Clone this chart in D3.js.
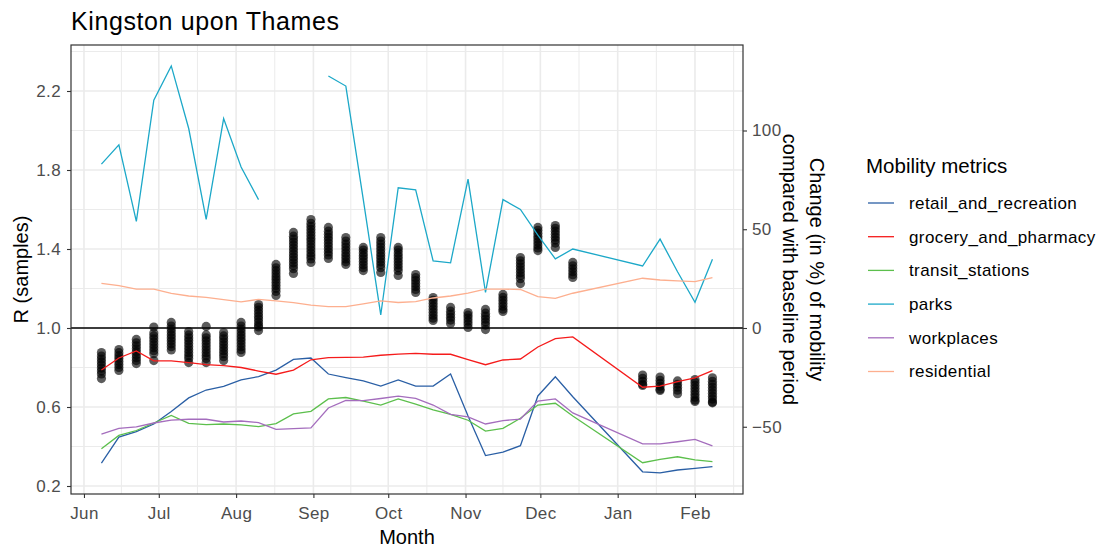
<!DOCTYPE html>
<html>
<head>
<meta charset="utf-8">
<script src="https://cdn.jsdelivr.net/npm/d3@7"></script>
<style>
  html, body { margin: 0; padding: 0; background: #ffffff; }
  svg { display: block; font-family: "Liberation Sans", Arial, sans-serif; }
</style>
</head>
<body>
<svg id="chart" width="1103" height="551"></svg>
<script>
// Weekly reporting dates (R samples and mobility averages share them)
const weeks = [
  "2020-06-08","2020-06-15","2020-06-22","2020-06-29","2020-07-06","2020-07-13","2020-07-20","2020-07-27",
  "2020-08-03","2020-08-10","2020-08-17","2020-08-24","2020-08-31","2020-09-07","2020-09-14","2020-09-21",
  "2020-09-28","2020-10-05","2020-10-12","2020-10-19","2020-10-26","2020-11-02","2020-11-09","2020-11-16",
  "2020-11-23","2020-11-30","2020-12-07","2020-12-14","2021-01-11","2021-01-18","2021-01-25","2021-02-01",
  "2021-02-08"
];

// Posterior samples of R for each week
const rSamples = [
  [0.876,0.858,0.843,0.828,0.813,0.797,0.782,0.767,0.744],
  [0.891,0.875,0.86,0.845,0.83,0.815,0.80,0.785],
  [0.942,0.925,0.91,0.895,0.88,0.865,0.85,0.835,0.82],
  [1.005,0.975,0.96,0.945,0.93,0.915,0.90,0.885,0.87,0.835],
  [1.028,1.01,0.995,0.98,0.965,0.95,0.935,0.92,0.905,0.889],
  [0.982,0.965,0.95,0.935,0.92,0.905,0.89,0.875,0.86,0.845,0.825],
  [1.008,0.965,0.95,0.935,0.92,0.905,0.89,0.875,0.86,0.845,0.825],
  [0.977,0.96,0.945,0.93,0.915,0.90,0.885,0.87,0.855,0.835],
  [1.028,1.01,0.995,0.98,0.965,0.95,0.935,0.92,0.905,0.89,0.876],
  [1.119,1.105,1.09,1.075,1.06,1.045,1.03,1.015,1.005,0.987],
  [1.322,1.305,1.29,1.275,1.26,1.245,1.23,1.215,1.20,1.185,1.165],
  [1.484,1.465,1.45,1.435,1.42,1.405,1.39,1.375,1.36,1.345,1.33,1.315,1.30,1.276],
  [1.549,1.53,1.515,1.50,1.485,1.47,1.455,1.44,1.425,1.41,1.395,1.38,1.365,1.35,1.332],
  [1.509,1.49,1.475,1.46,1.445,1.43,1.415,1.40,1.385,1.37,1.352],
  [1.458,1.44,1.425,1.41,1.395,1.38,1.365,1.35,1.335,1.322],
  [1.408,1.395,1.38,1.365,1.35,1.335,1.32,1.305,1.291],
  [1.458,1.44,1.425,1.41,1.395,1.38,1.365,1.35,1.335,1.32,1.305,1.281],
  [1.408,1.395,1.38,1.365,1.35,1.335,1.32,1.305,1.29,1.266],
  [1.271,1.255,1.24,1.225,1.21,1.195,1.18],
  [1.154,1.14,1.125,1.11,1.095,1.08,1.065,1.05,1.038],
  [1.104,1.085,1.07,1.055,1.04,1.023],
  [1.078,1.065,1.05,1.035,1.02,1.003],
  [1.094,1.075,1.06,1.045,1.03,1.015,0.992],
  [1.17,1.155,1.14,1.125,1.11,1.095,1.084],
  [1.357,1.34,1.325,1.31,1.295,1.28,1.265,1.25,1.225],
  [1.509,1.495,1.48,1.465,1.45,1.435,1.42,1.405,1.392],
  [1.519,1.505,1.49,1.475,1.46,1.445,1.43,1.408],
  [1.332,1.315,1.30,1.285,1.27,1.256],
  [0.762,0.745,0.73,0.715,0.709],
  [0.752,0.735,0.72,0.705,0.69,0.684],
  [0.732,0.715,0.70,0.685,0.667],
  [0.739,0.725,0.71,0.695,0.68,0.665,0.65,0.635,0.628],
  [0.748,0.73,0.715,0.70,0.685,0.67,0.655,0.64,0.625,0.621]
];

// Mobility change from baseline, in %
const retail = [-68.4,-55.2,-52.5,-48.6,-42.3,-35.4,-31.4,-29.6,-26.3,-24.6,
  -21.3,-15.9,-15.2,-23.3,-25.1,-26.8,-29.4,-26.3,-29.4,
  -29.4,-23.3,-44.6,-64.6,-62.8,-59.6,-34.4,-24.7,-34.8,
  -72.8,-73.4,-71.9,-71.1,-70.2];
const grocery = [-21.3,-15.2,-11.6,-16.6,-16.6,-17.5,-18.5,-19.0,-20.0,-21.8,
  -23.4,-21.3,-16.1,-15.0,-14.9,-14.7,-13.8,-13.2,-12.8,
  -13.3,-13.3,-16.0,-18.6,-16.2,-15.7,-9.6,-5.4,-4.5,
  -30.0,-29.4,-27.2,-25.2,-21.6];
const transit = [-61.1,-54.4,-51.9,-48.1,-44.3,-48.3,-48.9,-48.6,-49.1,-49.9,
  -48.4,-43.5,-42.2,-35.9,-35.2,-37.0,-39.0,-35.9,-38.5,
  -41.5,-43.7,-46.7,-52.2,-50.8,-45.7,-39.0,-38.1,-44.6,
  -68.2,-66.5,-65.2,-66.8,-67.7];
const parks = [83,92.7,54,115.4,132.7,101,55,106,81.5,65,
  null,null,null,127.6,122.5,65,6.6,71,70,
  34,33,75.4,18,65,60,47,35,40,
  31.4,45,28.5,13,34.8];
const workplaces = [-53.7,-50.8,-50.1,-48.1,-46.6,-46.2,-46.2,-47.6,-47.1,-47.9,
  -51.3,-50.9,-50.6,-40.5,-36.7,-36.8,-35.7,-34.5,-35.6,
  -39.0,-43.7,-45.0,-48.6,-46.9,-46.1,-37.0,-35.9,-43.0,
  -58.7,-58.7,-57.6,-56.4,-59.7];
const residential = [22.6,21.5,19.7,19.7,17.5,16.2,15.5,14.4,13.2,14.5,
  13.7,12.9,11.6,10.8,10.8,12.2,13.7,12.9,13.4,
  15.2,16.2,17.7,19.7,19.7,19.5,15.9,15.0,17.6,
  25.2,24.3,23.9,23.5,25.5];

const metricNames = ["retail_and_recreation","grocery_and_pharmacy","transit_stations","parks","workplaces","residential"];
const metricValues = [retail, grocery, transit, parks, workplaces, residential];
const metricColors = ["#2A5FA5","#F51B1B","#5CBF4C","#1CA8C8","#A46DBD","#FDAF8F"];

const leftTicks = [0.2, 0.6, 1.0, 1.4, 1.8, 2.2];
const leftMinor = [0.4, 0.8, 1.2, 1.6, 2.0, 2.4];
const rightTicks = [-50, 0, 50, 100];

const chartTitle = "Kingston upon Thames";
const xTitle = "Month";
const yTitle = "R (samples)";
const y2Title = ["Change (in %) of mobility", "compared with baseline period"];
const legendTitle = "Mobility metrics";

// ---- layout ----
const svg = d3.select("#chart");
const P = { left: 71, right: 743, top: 45, bottom: 494 };
const parse = d3.timeParse("%Y-%m-%d");
const dates = weeks.map(parse);

const x = d3.scaleTime()
  .domain([new Date(2020, 4, 26, 19, 12), new Date(2021, 1, 20, 6)])
  .range([P.left, P.right]);
const y = d3.scaleLinear().domain([0.1595, 2.4329]).range([P.bottom, P.top]);
// secondary axis: percent change, with 0 % at R = 1
const y2 = d3.scaleLinear().domain([(0.1595 - 1) * 100, (2.4329 - 1) * 100]).range([P.bottom, P.top]);

const tickColor = "#4D4D4D";
const gridColor = "#EBEBEB";

// grid
const grid = svg.append("g");
const months = d3.timeMonth.range(new Date(2020, 5, 1), new Date(2021, 1, 2));
const monthPx = months.map(m => x(m));
const minorPx = [];
for (let i = 0; i < monthPx.length - 1; i++) minorPx.push((monthPx[i] + monthPx[i + 1]) / 2);
minorPx.push(monthPx[monthPx.length - 1] + (monthPx[monthPx.length - 1] - monthPx[monthPx.length - 2]) / 2);

grid.selectAll(".hmin").data(leftMinor).join("line")
  .attr("x1", P.left).attr("x2", P.right)
  .attr("y1", d => y(d)).attr("y2", d => y(d))
  .attr("stroke", gridColor).attr("stroke-width", 1);
grid.selectAll(".vmin").data(minorPx.filter(v => v > P.left && v < P.right)).join("line")
  .attr("x1", d => d).attr("x2", d => d)
  .attr("y1", P.top).attr("y2", P.bottom)
  .attr("stroke", gridColor).attr("stroke-width", 1);
grid.selectAll(".hmaj").data(leftTicks).join("line")
  .attr("x1", P.left).attr("x2", P.right)
  .attr("y1", d => y(d)).attr("y2", d => y(d))
  .attr("stroke", gridColor).attr("stroke-width", 1.6);
grid.selectAll(".vmaj").data(monthPx).join("line")
  .attr("x1", d => d).attr("x2", d => d)
  .attr("y1", P.top).attr("y2", P.bottom)
  .attr("stroke", gridColor).attr("stroke-width", 1.6);

// R samples
const pts = [];
rSamples.forEach((arr, i) => arr.forEach(v => pts.push({ d: dates[i], v })));
svg.append("g").selectAll("circle").data(pts).join("circle")
  .attr("cx", d => x(d.d)).attr("cy", d => y(d.v)).attr("r", 4.6)
  .attr("fill", "#000").attr("fill-opacity", 0.64);

// reference line at R = 1
svg.append("line")
  .attr("x1", P.left).attr("x2", P.right)
  .attr("y1", y(1)).attr("y2", y(1))
  .attr("stroke", "#000").attr("stroke-width", 1.4);

// mobility lines
const line = d3.line()
  .defined(d => d.v !== null)
  .x(d => x(d.d)).y(d => y2(d.v));
const lines = svg.append("g").attr("fill", "none").attr("stroke-width", 1.3);
metricValues.forEach((vals, k) => {
  lines.append("path")
    .datum(vals.map((v, i) => ({ d: dates[i], v })))
    .attr("stroke", metricColors[k])
    .attr("d", line);
});

// panel border
svg.append("rect")
  .attr("x", P.left).attr("y", P.top)
  .attr("width", P.right - P.left).attr("height", P.bottom - P.top)
  .attr("fill", "none").attr("stroke", "#333333").attr("stroke-width", 1.2);

// axes
function styleAxis(g) {
  g.select(".domain").remove();
  g.selectAll(".tick line").attr("stroke", "#333333").attr("stroke-width", 1.1);
  g.selectAll(".tick text").attr("fill", tickColor)
    .style("font-size", "17px").style("letter-spacing", "0.4px")
    .style("font-family", "'Liberation Sans', Arial, sans-serif");
}
svg.append("g").attr("transform", `translate(0,${P.bottom})`)
  .call(d3.axisBottom(x).tickValues(months).tickFormat(d3.timeFormat("%b")).tickSize(4).tickPadding(9))
  .call(styleAxis);
svg.append("g").attr("transform", `translate(${P.left},0)`)
  .call(d3.axisLeft(y).tickValues(leftTicks).tickFormat(d3.format(".1f")).tickSize(4).tickPadding(6))
  .call(styleAxis);
svg.append("g").attr("transform", `translate(${P.right},0)`)
  .call(d3.axisRight(y2).tickValues(rightTicks).tickFormat(d3.format("d")).tickSize(4).tickPadding(5))
  .call(styleAxis);

// titles
svg.append("text").attr("x", 71).attr("y", 30)
  .style("font-size", "25px").style("letter-spacing", "0.6px")
  .attr("fill", "#000").text(chartTitle);
svg.append("text").attr("x", (P.left + P.right) / 2).attr("y", 544)
  .attr("text-anchor", "middle").style("font-size", "20px").attr("fill", "#000").text(xTitle);
svg.append("text")
  .attr("transform", `translate(28,${(P.top + P.bottom) / 2}) rotate(-90)`)
  .attr("text-anchor", "middle").style("font-size", "20px").attr("fill", "#000").text(yTitle);
y2Title.forEach((t, i) => {
  svg.append("text")
    .attr("transform", `translate(${810 - i * 27},${(P.top + P.bottom) / 2}) rotate(90)`)
    .attr("text-anchor", "middle").style("font-size", "20px").attr("fill", "#000").text(t);
});

// legend
const lg = svg.append("g");
lg.append("text").attr("x", 866).attr("y", 173)
  .style("font-size", "20.5px").attr("fill", "#000").text(legendTitle);
metricNames.forEach((n, k) => {
  const cy = 203 + k * 33.7;
  lg.append("line").attr("x1", 868).attr("x2", 894).attr("y1", cy).attr("y2", cy)
    .attr("stroke", metricColors[k]).attr("stroke-width", 1.3);
  lg.append("text").attr("x", 909).attr("y", cy).attr("dy", "0.35em")
    .style("font-size", "17px").style("letter-spacing", "0.4px")
    .attr("fill", "#000").text(n);
});
</script>
</body>
</html>
